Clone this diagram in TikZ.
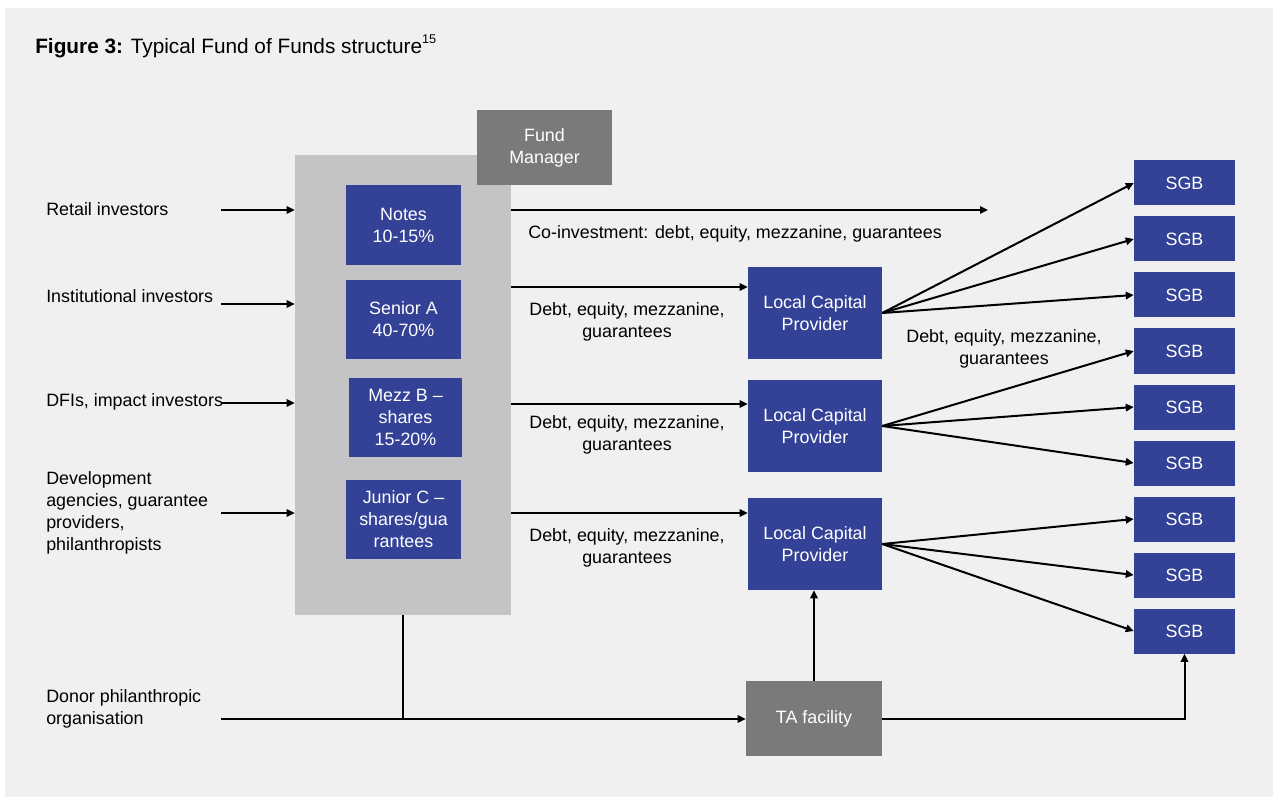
\documentclass[tikz,border=0pt]{standalone}
\usepackage{fontspec}
\setmainfont{Liberation Sans}
\usetikzlibrary{arrows.meta}
\definecolor{bg}{RGB}{240,240,240}
\definecolor{fofgray}{RGB}{196,195,197}
\definecolor{dgray}{RGB}{122,122,122}
\definecolor{blu}{RGB}{51,65,150}
\begin{document}
\begin{tikzpicture}[x=0.75pt,y=-0.75pt,
  font=\fontsize{13.4}{16.5}\selectfont,
  sz/.style 2 args={minimum width=#1*0.75pt, minimum height=#2*0.75pt},
  bluebox/.style={fill=blu, text=white, inner sep=0pt, align=center},
  graybox/.style={fill=dgray, text=white, inner sep=0pt, align=center},
  lbl/.style={inner sep=0pt, align=left, anchor=west},
  mid/.style={inner sep=0pt, align=center},
  arr/.style={line width=1.5pt, -{Triangle[length=6pt,width=5.5pt]}},
  thinline/.style={line width=0.9pt}]
\useasboundingbox (0,0) rectangle (1273,798);
\fill[white] (0,0) rectangle (1273,798);
\fill[bg] (5,8) rectangle (1273,797);

% title
\node[lbl, anchor=base west] (title) at (35,54) {\fontsize{15.6}{18}\selectfont\textbf{Figure 3:} Typical Fund of Funds structure\raisebox{8pt}{\fontsize{9.5}{10}\selectfont 15}};

% fund of funds
\node[fill=fofgray, inner sep=0pt, sz={216}{460}] (fof) at (403,385) {};
\node[graybox, sz={135}{75}] (fm) at (544.5,147.5) {Fund\\Manager};
\node[bluebox, sz={115}{80}] (notes) at (403.5,225) {Notes\\10-15\%};
\node[bluebox, sz={115}{79}] (senA) at (403.5,319.5) {Senior A\\40-70\%};
\node[bluebox, sz={113}{79}] (mezzB) at (405.5,417.5) {Mezz B --\\shares\\15-20\%};
\node[bluebox, sz={115}{79}] (junC) at (403.5,519.5) {Junior C --\\shares/gua\\rantees};

% local capital providers
\node[bluebox, sz={134}{92}] (lcp1) at (815,313) {Local Capital\\Provider};
\node[bluebox, sz={134}{92}] (lcp2) at (815,426) {Local Capital\\Provider};
\node[bluebox, sz={134}{92}] (lcp3) at (815,544) {Local Capital\\Provider};

% SGBs
\foreach \i in {1,...,9}
  \node[bluebox, sz={101}{45}] (sgb\i) at (1184.5,{183+56*(\i-1)}) {SGB};

% TA facility
\node[graybox, sz={136}{75}] (ta) at (814,718.5) {TA facility};

% left labels
\node[lbl, anchor=base west] (retail) at (46,216) {Retail investors};
\node[lbl, anchor=base west] (inst) at (46,303) {Institutional investors};
\node[lbl, anchor=base west] (dfi) at (46,406) {DFIs, impact investors};
\node[lbl] (dev) at (46,513) {Development\\agencies, guarantee\\providers,\\philanthropists};
\node[lbl] (donor) at (46,709) {Donor philanthropic\\organisation};

% inflow arrows
\coordinate (a1) at (221,210);
\coordinate (a2) at (221,304);
\coordinate (a3) at (221,403);
\coordinate (a4) at (221,513);
\foreach \a in {a1,a2,a3,a4}
  \draw[arr] (\a) -- (\a -| fof.west);

% outflow arrows
\coordinate (co) at (988,210);
\draw[arr] (fof.east |- co) -- (co);
\coordinate (r1) at (600,287);
\coordinate (r2) at (600,404);
\coordinate (r3) at (600,513);
\draw[arr] (fof.east |- r1) -- (lcp1.west |- r1);
\draw[arr] (fof.east |- r2) -- (lcp2.west |- r2);
\draw[arr] (fof.east |- r3) -- (lcp3.west |- r3);

\node[lbl, anchor=base west] (colbl) at (528,239) {Co-investment: debt, equity, mezzanine, guarantees};
\node[mid] (d1) at (627,322) {Debt, equity, mezzanine,\\guarantees};
\node[mid] (d2) at (627,435) {Debt, equity, mezzanine,\\guarantees};
\node[mid] (d3) at (627,548) {Debt, equity, mezzanine,\\guarantees};
\node[mid] (d4) at (1004,349) {Debt, equity, mezzanine,\\guarantees};

% fans
\foreach \i in {1,2,3} \draw[arr] (lcp1.east) -- (sgb\i.west);
\foreach \i in {4,5,6} \draw[arr] (lcp2.east) -- (sgb\i.west);
\foreach \i in {7,8,9} \draw[arr] (lcp3.east) -- (sgb\i.west);

% bottom
\coordinate (dn) at (221,719);
\draw[arr] (dn) -- (dn -| ta.west);
\draw[thinline] (fof.south) -- (fof.south |- dn);
\draw[arr] (ta.north) -- (ta.north |- lcp3.south);
\draw[arr] (ta.east) -| (sgb9.south);
\end{tikzpicture}
\end{document}
